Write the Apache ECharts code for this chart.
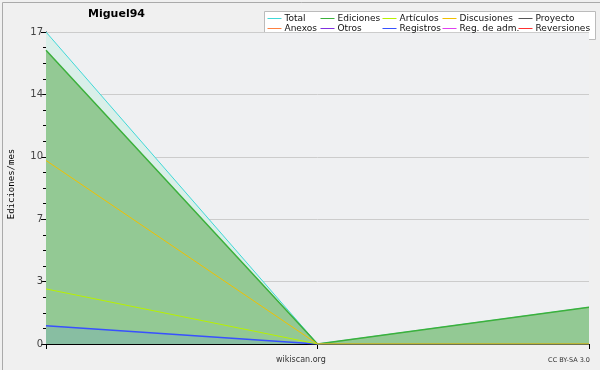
<!DOCTYPE html>
<html><head><meta charset="utf-8">
<script src="https://cdn.jsdelivr.net/npm/echarts@6/dist/echarts.min.js"></script>
<style>html,body{margin:0;padding:0;background:#f0f0f0}#c{width:600px;height:370px}</style>
</head><body><div id="c"></div>
<script>
var categories = ['1', '2', '3'];
var total = [17, 0, 2];
var ediciones = [16, 0, 2];
var articulos = [3, 0, 0];
var discusiones = [10, 0, 0];
var registros = [1, 0, 0];
var proyecto = [];
var anexos = [];
var otros = [];
var regAdm = [];
var reversiones = [];
var yTicks = [0, 3, 7, 10, 14, 17];

var chart = echarts.init(document.getElementById('c'), null, {renderer: 'canvas'});
var F = 'DejaVu Sans';
function ln(name, data, color, z, area, w) {
  var s = {name: name, type: 'line', data: data, symbol: 'none', color: color,
    lineStyle: {color: color, width: w || 1}, z: z, animation: false};
  if (area) s.areaStyle = {color: area, opacity: 1};
  return s;
}
var legendCols = [[267, ['Total', 'Anexos']], [320, ['Ediciones', 'Otros']], [382, ['Artículos', 'Registros']], [442, ['Discusiones', 'Reg. de adm.']], [518, ['Proyecto', 'Reversiones']]];
var legends = legendCols.map(function (c) {
  return {orient: 'vertical', left: c[0], top: 14, itemGap: 1, itemWidth: 14, itemHeight: 9,
    selectedMode: false, padding: 0,
    itemStyle: {opacity: 0},
    lineStyle: {width: 1},
    textStyle: {fontFamily: F, fontSize: 9, color: '#111', padding: [0, 0, 0, -2]}, data: c[1]};
});
chart.setOption({
  backgroundColor: '#f0f0f0',
  animation: false,
  title: {text: 'Miguel94', left: 83, top: 4, textStyle: {fontFamily: F, fontSize: 11, fontWeight: 'bold', color: '#000'}},
  legend: legends,
  grid: {left: 46, right: 11, top: 32, bottom: 26, show: true, backgroundColor: '#eff0f2', borderWidth: 0, outerBoundsMode: 'none', containLabel: false},
  xAxis: {type: 'category', data: categories, boundaryGap: false,
    axisLine: {lineStyle: {color: '#000', width: 1}},
    axisTick: {show: true, length: 5, lineStyle: {color: '#000'}},
    axisLabel: {show: false}, splitLine: {show: false}},
  yAxis: {type: 'value', min: 0, max: 17, interval: 3.4,
    name: 'Ediciones/mes', nameLocation: 'middle', nameGap: 30, nameRotate: 90,
    nameTextStyle: {fontFamily: 'DejaVu Sans Mono', fontSize: 9, color: '#000', padding: [0, 0, 0, 8]},
    axisLine: {show: true, lineStyle: {color: '#000'}},
    axisTick: {show: true, length: 5, lineStyle: {color: '#000'}},
    minorTick: {show: true, splitNumber: 4, length: 3, lineStyle: {color: '#000'}},
    axisLabel: {fontFamily: F, fontSize: 10, color: '#444', margin: 3,
      formatter: function (v) { var r = Math.round(v); return yTicks.indexOf(r) >= 0 ? String(r) : ''; }},
    splitLine: {show: true, lineStyle: {color: '#cccccc', width: 1}}},
  series: [
    ln('Total', total, '#40d8d8', 2, '#d9efe9'),
    ln('Ediciones', ediciones, '#3cb03c', 3, '#93c994', 1.5),
    ln('Artículos', articulos, '#b8f000', 6),
    ln('Discusiones', discusiones, '#f0c000', 6),
    ln('Proyecto', proyecto, '#555555', 6),
    ln('Anexos', anexos, '#ff8040', 6),
    ln('Otros', otros, '#8030e0', 6),
    ln('Registros', registros, '#3850ff', 5, '#88bea2', 1.5),
    ln('Reg. de adm.', regAdm, '#e040f0', 6),
    ln('Reversiones', reversiones, '#ff3030', 6)
  ],
  graphic: [
    {type: 'rect', left: 0, top: 0, shape: {width: 599, height: 369}, style: {fill: 'none', stroke: '#aaaaaa', lineWidth: 1}, z: 100, silent: true},
    {type: 'rect', left: 264, top: 11, shape: {width: 331, height: 28}, style: {fill: '#ffffff', stroke: '#bbbbbb', lineWidth: 1}, z: -1, silent: true},
    {type: 'text', left: 276, top: 356, style: {text: 'wikiscan.org', fontFamily: F, fontSize: 8, fill: '#333'}},
    {type: 'text', right: 10, top: 357, style: {text: 'CC BY-SA 3.0', fontFamily: F, fontSize: 6.5, fill: '#333'}}
  ]
});
</script></body></html>
